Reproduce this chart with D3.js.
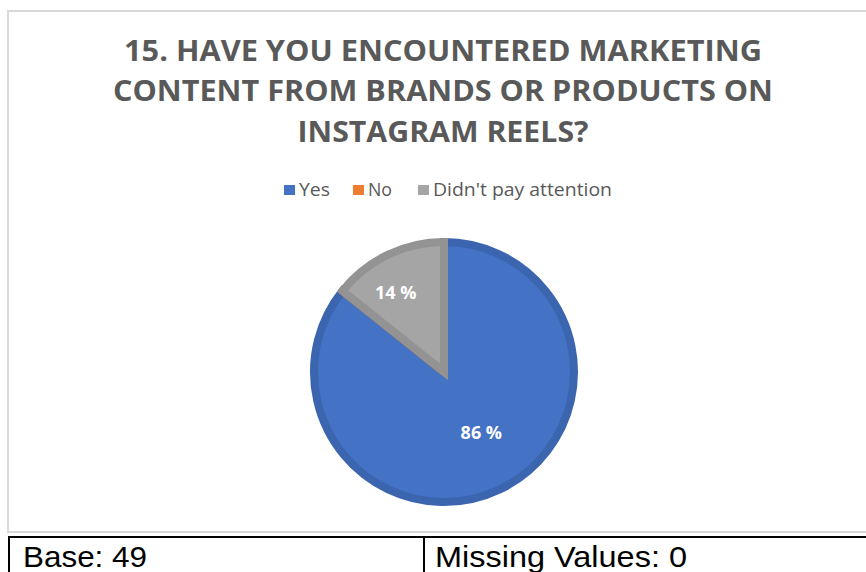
<!DOCTYPE html>
<html><head><meta charset="utf-8">
<script src="https://cdn.jsdelivr.net/npm/d3@7"></script>
<style>body{margin:0;background:#fff;overflow:hidden}</style>
</head><body>
<svg id="c" width="866" height="572"></svg>
<script>
const titleLines = ["15. HAVE YOU ENCOUNTERED MARKETING", "CONTENT FROM BRANDS OR PRODUCTS ON", "INSTAGRAM REELS?"];
const categories = ["Yes", "No", "Didn't pay attention"];
const values = [42, 0, 7];
const fills = ["#4472c4", "#ed7d31", "#a5a5a5"];
const strokes = ["#3c65b0", "#d26e2b", "#939393"];
const tableCells = ["Base: 49", "Missing Values: 0"];

const svg = d3.select("#c");
// chart frame
svg.append("rect").attr("x", 8).attr("y", 11).attr("width", 880).attr("height", 521)
  .attr("fill", "#fff").attr("stroke", "#d9d9d9").attr("stroke-width", 2);

// title
const tW = [638, 660, 291];
const tY = [61, 101, 142];
titleLines.forEach((t, i) => {
  svg.append("text").attr("x", 443).attr("y", tY[i])
    .attr("text-anchor", "middle").attr("font-family", "Open Sans, sans-serif")
    .attr("font-weight", "bold").attr("font-size", 29).attr("fill", "#595959")
    .attr("textLength", tW[i]).attr("lengthAdjust", "spacingAndGlyphs").text(t);
});

// legend
const legX = [284, 353, 418];
const legW = [31, 24, 179];
categories.forEach((c, i) => {
  svg.append("rect").attr("x", legX[i]).attr("y", 185).attr("width", 11).attr("height", 10).attr("fill", fills[i]);
  svg.append("text").attr("x", legX[i] + 15).attr("y", 196).attr("font-family", "Open Sans, sans-serif")
    .attr("font-size", 18).attr("fill", "#595959")
    .attr("textLength", legW[i]).attr("lengthAdjust", "spacingAndGlyphs").text(c);
});

// pie
const cx = 444, cy = 372, r = 130;
const total = d3.sum(values);
const pie = d3.pie().sort(null).value(d => d)(values);
const arc = d3.arc().innerRadius(0).outerRadius(r);
const g = svg.append("g").attr("transform", `translate(${cx},${cy})`);
g.selectAll("path").data(pie).join("path")
  .attr("d", arc).attr("fill", (d, i) => fills[i]).attr("stroke", (d, i) => strokes[i])
  .attr("stroke-width", 8).attr("stroke-linejoin", "miter");
const labelR = [0.52, 0, 0.68];
const labelDx = [8, 0, -10];
g.selectAll("text.lbl").data(pie.map((d, i) => ({...d, idx: i})).filter(d => d.value > 0))
  .join("text").attr("class", "lbl")
  .attr("transform", d => {
    const a = (d.startAngle + d.endAngle) / 2;
    const rr = r * labelR[d.idx];
    return `translate(${Math.sin(a) * rr + labelDx[d.idx]},${-Math.cos(a) * rr})`;
  })
  .attr("text-anchor", "middle").attr("dy", "0.36em")
  .attr("font-family", "Open Sans, sans-serif").attr("font-weight", "bold").attr("font-size", 18)
  .attr("fill", "#fff")
  .text(d => Math.round(d.value / total * 100) + " %");

// table
svg.append("line").attr("x1", 8).attr("x2", 866).attr("y1", 537).attr("y2", 537).attr("stroke", "#000").attr("stroke-width", 2);
svg.append("line").attr("x1", 9).attr("x2", 9).attr("y1", 536).attr("y2", 572).attr("stroke", "#000").attr("stroke-width", 2);
svg.append("line").attr("x1", 424).attr("x2", 424).attr("y1", 536).attr("y2", 572).attr("stroke", "#000").attr("stroke-width", 2);
const cellX = [23, 435];
const cellW = [124, 252];
tableCells.forEach((t, i) => {
  svg.append("text").attr("x", cellX[i]).attr("y", 567).attr("font-family", "Liberation Sans, Arial, sans-serif")
    .attr("font-size", 30).attr("fill", "#000")
    .attr("textLength", cellW[i]).attr("lengthAdjust", "spacingAndGlyphs").text(t);
});
</script>
</body></html>
